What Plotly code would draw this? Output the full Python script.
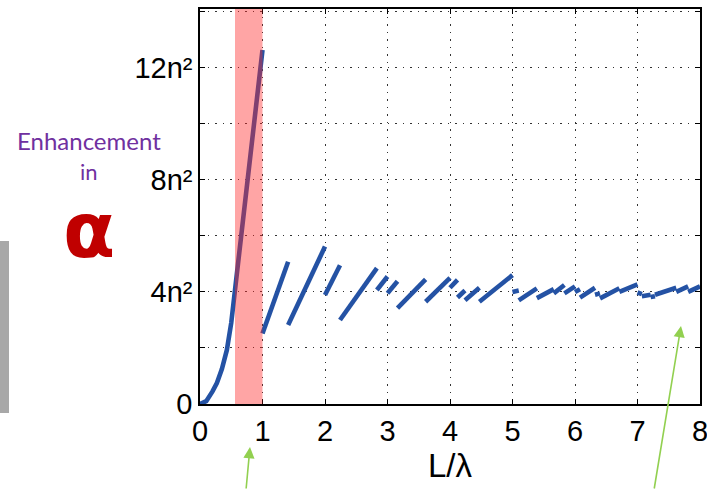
import plotly.graph_objects as go

# Rising curve below first cutoff (L/lambda < 1)
curve_x = [0.0, 0.1, 0.2, 0.27, 0.35, 0.43, 0.5, 0.56, 0.62, 0.69, 0.76, 0.83, 0.9, 0.95, 1.0]
curve_y = [0.0, 0.1, 0.45, 0.75, 1.25, 1.93, 2.9, 4.07, 5.3, 6.69, 8.0, 9.3, 10.7, 11.7, 12.64]

# Segments beyond cutoff: start x, start y, end x, end y
seg_x0 = [1.0, 1.41, 2.0, 2.24, 2.83, 3.0, 3.16, 3.61, 4.0, 4.12, 4.24, 4.47, 5.0, 5.1, 5.39, 5.66, 5.83, 6.0, 6.08, 6.32, 6.4, 6.71, 7.0, 7.07, 7.21, 7.28, 7.62, 7.81]
seg_y0 = [2.52, 2.82, 3.89, 3.0, 4.07, 3.95, 3.42, 3.65, 4.15, 3.8, 3.7, 3.65, 4.0, 3.7, 3.78, 3.95, 3.95, 4.0, 3.8, 3.9, 3.77, 4.0, 3.98, 3.85, 3.82, 3.9, 4.0, 4.0]
seg_x1 = [1.41, 2.0, 2.24, 2.83, 3.0, 3.16, 3.61, 4.0, 4.12, 4.24, 4.47, 5.0, 5.1, 5.39, 5.66, 5.83, 6.0, 6.08, 6.32, 6.4, 6.71, 7.0, 7.07, 7.21, 7.28, 7.62, 7.81, 8.0]
seg_y1 = [5.08, 5.62, 4.95, 4.85, 4.55, 4.38, 4.45, 4.5, 4.43, 4.05, 4.15, 4.6, 4.05, 4.13, 4.1, 4.25, 4.2, 4.1, 4.15, 3.95, 4.13, 4.27, 3.92, 3.9, 3.85, 4.15, 4.2, 4.2]

y_tickvals = [0, 2, 4, 6, 8, 10, 12, 14]
y_ticktext = ["0", "", "4n²", "", "8n²", "", "12n²", ""]
x_tickvals = [0, 1, 2, 3, 4, 5, 6, 7, 8]
x_ticktext = ["0", "1", "2", "3", "4", "5", "6", "7", "8"]

band = (0.56, 1.0)

BLUE = "#2452a4"
W, H = 707, 490
L, R, T, B = 200, 7, 9, 86

fig = go.Figure()
fig.add_trace(go.Scatter(x=curve_x, y=curve_y, mode="lines",
                         line=dict(color=BLUE, width=4.6), hoverinfo="skip"))
sx, sy = [], []
for a, b, c, d in zip(seg_x0, seg_y0, seg_x1, seg_y1):
    sx += [a, c, None]
    sy += [b, d, None]
fig.add_trace(go.Scatter(x=sx, y=sy, mode="lines",
                         line=dict(color=BLUE, width=4.6), hoverinfo="skip"))

fig.add_shape(type="rect", xref="x", yref="paper", x0=band[0], x1=band[1], y0=0, y1=1,
              fillcolor="rgba(255,40,40,0.42)", line=dict(width=0), layer="above")

def px(xp):
    return (xp - L) / (W - L - R)

def py(yp):
    return (H - B - yp) / (H - T - B)

# gray bar at left edge
fig.add_shape(type="rect", xref="paper", yref="paper", x0=px(0), x1=px(9), y0=py(413), y1=py(241),
              fillcolor="#a8a8a8", line=dict(width=0))

fig.add_annotation(x=px(89), y=py(140), xref="paper", yref="paper", text="Enhancement",
                   xanchor="center", yanchor="middle", showarrow=False,
                   font=dict(family="Lato", size=24, color="#7030A0"))
fig.add_annotation(x=px(89), y=py(171), xref="paper", yref="paper", text="in",
                   xanchor="center", yanchor="middle", showarrow=False,
                   font=dict(family="Lato", size=22, color="#7030A0"))
fig.add_annotation(x=px(89), y=py(230), xref="paper", yref="paper", text="<b>α</b>",
                   xanchor="center", yanchor="middle", showarrow=False,
                   font=dict(family="DejaVu Sans", size=76, color="#C00000"))

fig.add_annotation(x=px(250), y=py(447), xref="paper", yref="paper", text="", showarrow=True,
                   ax=-4, ay=45, arrowcolor="#92D050", arrowwidth=1.6, arrowhead=2, arrowsize=1.4)
fig.add_annotation(x=px(681), y=py(326), xref="paper", yref="paper", text="", showarrow=True,
                   ax=-27, ay=168, arrowcolor="#92D050", arrowwidth=1.6, arrowhead=2, arrowsize=1.4)

fig.update_layout(
    width=W, height=H, margin=dict(l=L, r=R, t=T, b=B, autoexpand=False),
    paper_bgcolor="white", plot_bgcolor="white", showlegend=False,
    font=dict(family="Liberation Sans, Arial", color="black"),
)
grid = dict(showgrid=True, gridcolor="#333", griddash="1.5px,6px", gridwidth=1.2,
            showline=True, linecolor="black", linewidth=1.5, mirror="ticks",
            ticks="inside", ticklen=5, tickcolor="black", zeroline=False, automargin=False,
            ticklabeloverflow="allow")
fig.update_xaxes(range=[0, 8], tickvals=x_tickvals, ticktext=x_ticktext,
                 tickfont=dict(size=29), title=dict(text="L/λ", font=dict(size=33), standoff=2),
                 **grid)
fig.update_yaxes(range=[0, 14.1], tickvals=y_tickvals, ticktext=y_ticktext,
                 tickfont=dict(size=29), **grid)

fig.write_html("out.html")
